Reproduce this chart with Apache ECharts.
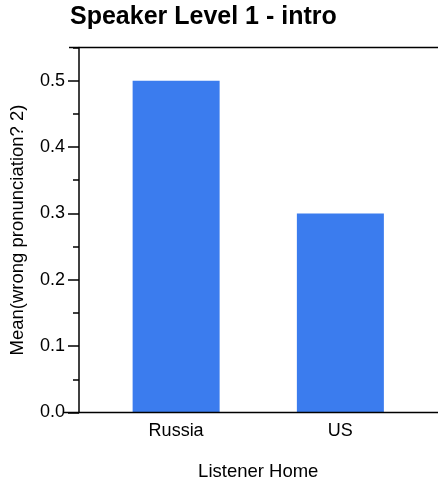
<!DOCTYPE html>
<html>
<head>
<meta charset="utf-8">
<script src="https://cdn.jsdelivr.net/npm/echarts@6/dist/echarts.min.js"></script>
<style>
html,body{margin:0;padding:0;background:#fff;}
#c{width:438px;height:490px;}
</style>
</head>
<body>
<div id="c"></div>
<script>
const categories = ['Russia', 'US'];
const meanValues = [0.5, 0.3];
const yMajorTicks = [0, 0.1, 0.2, 0.3, 0.4, 0.5];
const yMinorTicks = [0.05, 0.15, 0.25, 0.35, 0.45, 0.55];
const titleText = 'Speaker Level 1 - intro';
const xName = 'Listener Home';
const yName = 'Mean(wrong pronunciation? 2)';

const FONT = 'Liberation Sans, Arial, sans-serif';
const chart = echarts.init(document.getElementById('c'), null, {renderer: 'canvas'});

const gridTop = 47.5, gridBottomY = 412.5, gridLeft = 90.5, gridRight = 15.5;

chart.setOption({
  animation: false,
  backgroundColor: '#fff',
  title: {
    text: titleText,
    left: 70, top: 5, padding: 0,
    textStyle: {fontFamily: FONT, fontWeight: 'bold', fontSize: 25, color: '#000'}
  },
  grid: {left: gridLeft, right: gridRight, top: gridTop, bottom: 490 - gridBottomY, containLabel: false},
  xAxis: {
    type: 'category',
    data: categories,
    axisLine: {show: false},
    axisTick: {show: false},
    axisLabel: {fontFamily: FONT, fontSize: 18, color: '#000', margin: 10},
    name: xName,
    nameLocation: 'middle',
    nameGap: 50,
    nameTextStyle: {fontFamily: FONT, fontSize: 18.5, color: '#000'}
  },
  yAxis: [{
    type: 'value',
    min: 0, max: 0.55, interval: 0.05,
    position: 'left',
    offset: 15,
    splitLine: {show: false},
    axisLine: {show: true, lineStyle: {color: '#000', width: 1.5}},
    axisTick: {show: true, length: 11, customValues: yMajorTicks, lineStyle: {color: '#000', width: 1.5}},
    axisLabel: {customValues: yMajorTicks, fontFamily: FONT, fontSize: 18, color: '#000', margin: 14,
      formatter: v => v.toFixed(1)},
    name: yName,
    nameLocation: 'middle',
    nameGap: 52,
    nameTextStyle: {fontFamily: FONT, fontSize: 18.5, color: '#000'}
  }, {
    type: 'value',
    min: 0, max: 0.55, interval: 0.05,
    position: 'left',
    offset: 15,
    splitLine: {show: false},
    axisLine: {show: false},
    axisTick: {show: true, length: 6, customValues: yMinorTicks, lineStyle: {color: '#000', width: 1.5}},
    axisLabel: {show: false}
  }],
  series: [{
    type: 'bar',
    data: meanValues,
    barWidth: 87,
    itemStyle: {color: '#3B7CEE'},
    yAxisIndex: 0
  }],
  graphic: [
    {type: 'line', shape: {x1: 64, y1: gridBottomY, x2: 438, y2: gridBottomY}, style: {stroke: '#000', lineWidth: 1.5}, z: 10},
    {type: 'line', shape: {x1: 69, y1: gridTop, x2: 438, y2: gridTop}, style: {stroke: '#000', lineWidth: 1.5}, z: 10}
  ]
});
</script>
</body>
</html>
